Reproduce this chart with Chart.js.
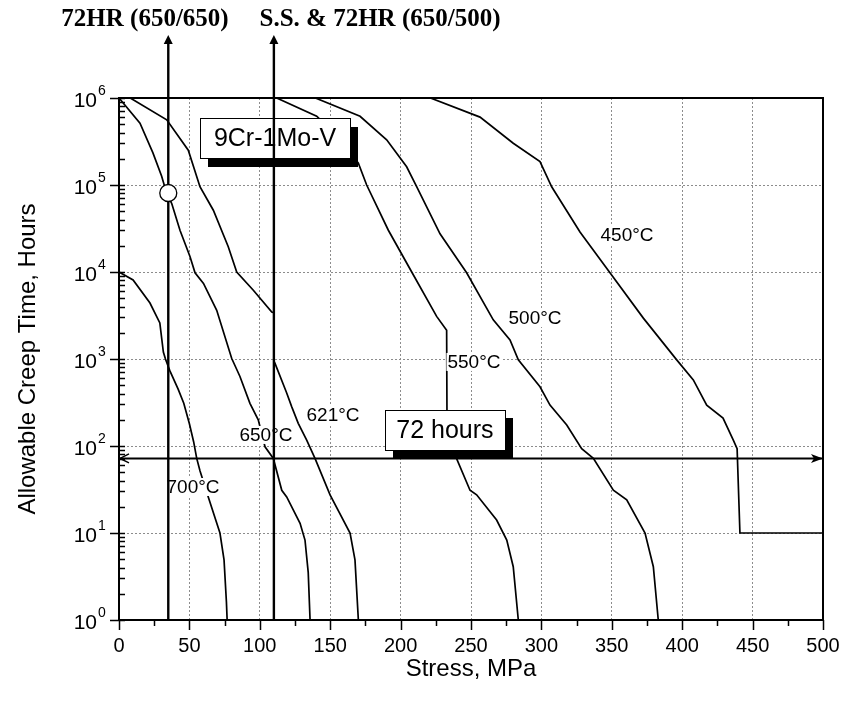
<!DOCTYPE html>
<html><head><meta charset="utf-8">
<script src="https://cdn.jsdelivr.net/npm/chart.js@4/dist/chart.umd.min.js"></script>
<style>html,body{margin:0;padding:0;background:#fff}#wrap{width:841px;height:702px}</style>
</head><body><div id="wrap"><canvas id="c" width="841" height="702"></canvas></div>
<script>
// ---- data (stress in MPa, allowable creep time in hours) ----
const curveNames = ['700°C','650°C','621°C','550°C','500°C','450°C'];
const stress700 = [0, 10, 22, 29, 31.5, 33, 36, 42, 46, 50, 53, 55.2, 57.5, 63.4, 71.7, 74.6, 76.3, 76.8];
const hours700  = [10000, 8100, 4400, 2600, 1200, 1000, 740, 450, 310, 180, 112, 72, 52, 26, 10, 4.9, 1.6, 1];
const stress650 = [0, 14.9, 24.1, 30.3, 33.9, 37.4, 43.3, 50.4, 54, 60, 69.4, 80, 85.9, 93, 98.9, 103.7, 109.6, 115.6, 119.1, 128.6, 132.1, 134.4, 135.7];
const hours650  = [1e6, 513000, 234000, 126000, 79400, 61700, 30200, 15100, 9800, 7400, 3630, 1020, 630, 309, 200, 98, 72, 31, 26, 12.9, 8.3, 3.5, 1];
const stress621 = [8, 33.9, 49.2, 57.5, 67, 77.6, 83.6, 95.4, 108.5, 110, 110, 110.8, 119.1, 122.7, 127.3, 133.3, 139.2, 149.9, 164.1, 167.6, 170];
const hours621  = [1e6, 562000, 251000, 95500, 51300, 19500, 10000, 6170, 3470, 3400, 955, 890, 407, 282, 182, 117, 72, 27.5, 10, 4.9, 1];
const stress550 = [112, 140.4, 156, 170, 175.9, 191.3, 207.9, 225.6, 232.7, 233, 239.7, 249.3, 254, 268.2, 275.4, 280, 283.6];
const hours550  = [1e6, 617000, 355000, 178000, 100000, 30200, 10000, 3090, 2140, 126, 72, 31, 27.5, 14.1, 8.3, 4.1, 1];
const stress500 = [139.5, 171.2, 190.1, 204.3, 211.4, 228, 246.9, 265.8, 277.7, 283.6, 299, 306.1, 318, 328.6, 336.9, 351.1, 360.6, 373.6, 379.5, 383];
const hours500  = [1e6, 617000, 331000, 162000, 95500, 27500, 9800, 2820, 1660, 977, 479, 295, 174, 93, 72, 31, 24, 10, 4.1, 1];
const stress450 = [221.2, 256.4, 280, 299, 307.3, 327.4, 348.7, 372.4, 396.1, 407.9, 417.4, 429, 436.3, 439, 441, 500];
const hours450  = [1e6, 603000, 302000, 186000, 95500, 28800, 9800, 2950, 977, 575, 295, 209, 117, 93, 10, 10];

const xTicks = [0, 50, 100, 150, 200, 250, 300, 350, 400, 450, 500];
const yExponents = [0, 1, 2, 3, 4, 5, 6];
const limitHours = 72;                       // 72-hour horizontal line
const markerStress = [35, 110];              // vertical marker lines
const markerTitles = ['72HR (650/650)', 'S.S. & 72HR (650/500)'];
const markerTopHours = 4.3e6;                // arrow end above the frame
const circleStress = [35, 110];
const circleHours = [80900, 2730000];
// text labels anchored at (stress, hours)
const labelText = ['450°C','500°C','550°C','621°C','650°C','700°C'];
const labelStress = [360.8, 295.5, 252.1, 152, 104.4, 52.6];
const labelHours = [26600, 2960, 925, 227, 134, 33.8];
const boxText = ['9Cr-1Mo-V', '72 hours'];
const boxStress = [110.8, 231.5];
const boxHours = [347000, 153];

// ---- datasets ----
const curveStress = [stress700, stress650, stress621, stress550, stress500, stress450];
const curveHours = [hours700, hours650, hours621, hours550, hours500, hours450];
const datasets = curveNames.map((n, i) => ({
  label: n,
  data: curveStress[i].map((s, j) => ({x: s, y: curveHours[i][j]})),
  showLine: true, borderColor: '#000', borderWidth: 1.7, pointRadius: 0, tension: 0, order: 10
}));
datasets.push({
  label: '72 hours', isAnnot: true,
  data: [{x: xTicks[0], y: limitHours}, {x: xTicks[xTicks.length - 1], y: limitHours}],
  showLine: true, borderColor: '#000', borderWidth: 2, pointRadius: 0, order: 3
});
markerStress.forEach((s, i) => datasets.push({
  label: markerTitles[i], isAnnot: true, isMarker: true,
  data: [{x: s, y: 1}, {x: s, y: markerTopHours}],
  showLine: true, borderColor: '#000', borderWidth: 2.4, pointRadius: 0, order: 2, clip: false
}));
datasets.push({
  label: 'points', isAnnot: true,
  data: circleStress.map((s, i) => ({x: s, y: circleHours[i]})),
  showLine: false, pointRadius: 8.5, pointBackgroundColor: '#fff', pointBorderColor: '#000',
  pointBorderWidth: 1.3, order: 1, clip: false
});

function isDecade(v) { const l = Math.log10(v); return Math.abs(l - Math.round(l)) < 1e-9; }

function drawLabels(chart) {
  const ctx = chart.ctx, xs = chart.scales.x, ys = chart.scales.y;
  ctx.save();
  ctx.font = '19px Arial';
  ctx.textAlign = 'center'; ctx.textBaseline = 'middle';
  labelText.forEach((t, i) => {
    const px = xs.getPixelForValue(labelStress[i]), py = ys.getPixelForValue(labelHours[i]);
    const w = ctx.measureText(t).width;
    ctx.fillStyle = '#fff';
    ctx.fillRect(px - w / 2 - 1, py - 9, w + 2, 18);
    ctx.fillStyle = '#000';
    ctx.fillText(t, px, py + 1);
  });
  const sizes = [[150, 40, 8, 9], [120, 40, 8, 8]];
  boxText.forEach((t, i) => {
    const px = xs.getPixelForValue(boxStress[i]), py = ys.getPixelForValue(boxHours[i]);
    const [w, h, dx, dy] = sizes[i];
    const l = Math.round(px - w / 2), tp = Math.round(py - h / 2);
    ctx.fillStyle = '#000';
    ctx.fillRect(l + dx, tp + dy, w, h);
    ctx.fillStyle = '#fff';
    ctx.fillRect(l, tp, w, h);
    ctx.strokeStyle = '#000'; ctx.lineWidth = 1;
    ctx.strokeRect(l + 0.5, tp + 0.5, w, h);
    ctx.fillStyle = '#000';
    ctx.font = '25px Arial';
    ctx.fillText(t, px, py + 1);
  });
  ctx.restore();
}

const decor = {
  id: 'decor',
  beforeDatasetsDraw(chart) { chart.$labelsDone = false; },
  beforeDatasetDraw(chart, args) {
    const ds = chart.data.datasets[args.index];
    if (ds.isAnnot && !chart.$labelsDone) { chart.$labelsDone = true; drawLabels(chart); }
  },
  afterDraw(chart) {
    const ctx = chart.ctx, xs = chart.scales.x, ys = chart.scales.y, a = chart.chartArea;
    ctx.save();
    ctx.strokeStyle = '#000'; ctx.lineWidth = 2;
    ctx.strokeRect(a.left, a.top, a.right - a.left, a.bottom - a.top);
    ctx.lineWidth = 1.5;
    ctx.beginPath();
    yExponents.forEach(e => {
      const y = Math.round(ys.getPixelForValue(Math.pow(10, e))) + 0.5;
      ctx.moveTo(a.left - 9, y); ctx.lineTo(a.left + 6, y);
      if (e < yExponents[yExponents.length - 1]) {
        for (let m = 2; m <= 9; m++) {
          const ym = Math.round(ys.getPixelForValue(m * Math.pow(10, e))) + 0.5;
          ctx.moveTo(a.left, ym); ctx.lineTo(a.left + 6, ym);
        }
      }
    });
    xTicks.forEach((v, i) => {
      const x = Math.round(xs.getPixelForValue(v)) + 0.5;
      ctx.moveTo(x, a.bottom); ctx.lineTo(x, a.bottom + 10);
      if (i < xTicks.length - 1) {
        const xm = Math.round(xs.getPixelForValue((v + xTicks[i + 1]) / 2)) + 0.5;
        ctx.moveTo(xm, a.bottom); ctx.lineTo(xm, a.bottom + 6);
      }
    });
    ctx.stroke();
    ctx.fillStyle = '#000';
    yExponents.forEach(e => {
      const y = ys.getPixelForValue(Math.pow(10, e));
      ctx.font = '21px Arial'; ctx.textAlign = 'right'; ctx.textBaseline = 'middle';
      ctx.fillText('10', 97, y + 3);
      ctx.font = '14px Arial'; ctx.textAlign = 'left'; ctx.textBaseline = 'alphabetic';
      ctx.fillText(String(e), 98, y - 3);
    });
    markerStress.forEach(s => {
      const x = xs.getPixelForValue(s), y = ys.getPixelForValue(markerTopHours);
      ctx.beginPath();
      ctx.moveTo(x, y - 8); ctx.lineTo(x - 4.5, y + 1); ctx.lineTo(x + 4.5, y + 1); ctx.closePath();
      ctx.fill();
    });
    const yl = ys.getPixelForValue(limitHours);
    const xl = xs.getPixelForValue(xTicks[0]), xr = xs.getPixelForValue(xTicks[xTicks.length - 1]);
    ctx.lineWidth = 1.5;
    ctx.beginPath();
    ctx.moveTo(xl + 10, yl - 4.5); ctx.lineTo(xl + 1, yl); ctx.lineTo(xl + 10, yl + 4.5);
    ctx.stroke();
    ctx.beginPath();
    ctx.moveTo(xr, yl); ctx.lineTo(xr - 12, yl - 4.5); ctx.lineTo(xr - 9, yl); ctx.lineTo(xr - 12, yl + 4.5); ctx.closePath();
    ctx.fill();
    ctx.font = 'bold 25px "Liberation Serif", "Times New Roman", serif';
    ctx.textAlign = 'center'; ctx.textBaseline = 'alphabetic';
    ctx.fillText(markerTitles[0], 145, 26);
    ctx.fillText(markerTitles[1], 380, 26);
    ctx.restore();
  }
};

new Chart(document.getElementById('c'), {
  type: 'scatter',
  data: {datasets},
  options: {
    responsive: false, animation: false, devicePixelRatio: 1,
    layout: {padding: {top: 98, right: 18, left: 0, bottom: 0}},
    plugins: {legend: {display: false}, tooltip: {enabled: false}},
    scales: {
      x: {
        type: 'linear', min: xTicks[0], max: xTicks[xTicks.length - 1],
        afterFit(s) { s.height = 82; s.paddingLeft = 0; s.paddingRight = 0; },
        afterBuildTicks(s) { s.ticks = xTicks.map(v => ({value: v})); },
        ticks: {font: {family: 'Arial', size: 20}, color: '#000', padding: 14, maxRotation: 0, autoSkip: false},
        grid: {color: c => (c.tick && c.tick.value > 0 && c.tick.value < 500) ? '#8c8c8c' : 'rgba(0,0,0,0)', lineWidth: 1, drawTicks: false},
        border: {display: false, dash: [2, 2]},
        title: {display: true, text: 'Stress, MPa', font: {family: 'Arial', size: 24}, color: '#000', padding: {top: 0, bottom: 18}}
      },
      y: {
        type: 'logarithmic', min: Math.pow(10, yExponents[0]), max: Math.pow(10, yExponents[yExponents.length - 1]),
        afterFit(s) { s.width = 119; s.paddingTop = 0; s.paddingBottom = 0; },
        afterBuildTicks(s) { s.ticks = yExponents.map(e => ({value: Math.pow(10, e), major: true})); },
        ticks: {display: false},
        grid: {color: c => (c.tick && c.tick.value > 1 && c.tick.value < 1e6 && isDecade(c.tick.value)) ? '#8c8c8c' : 'rgba(0,0,0,0)', lineWidth: 1, drawTicks: false},
        border: {display: false, dash: [2, 2]},
        title: {display: true, text: 'Allowable Creep Time, Hours', font: {family: 'Arial', size: 24}, color: '#000', padding: {top: 14, bottom: 0}}
      }
    }
  },
  plugins: [decor]
});
</script></body></html>
